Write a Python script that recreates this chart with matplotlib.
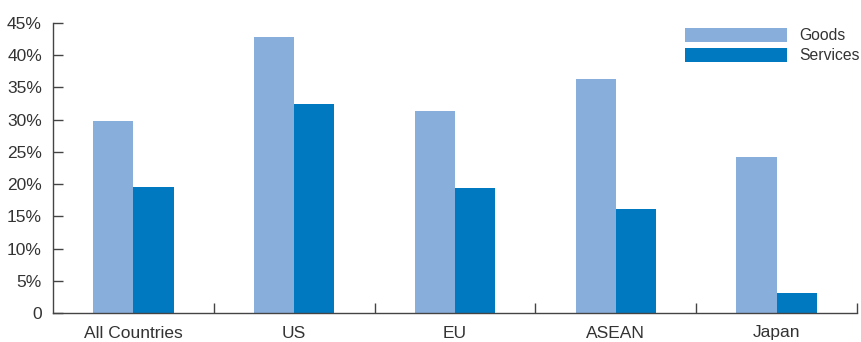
import matplotlib.pyplot as plt
import numpy as np

regions = ["All Countries", "US", "EU", "ASEAN", "Japan"]
goods = [29.8, 42.9, 31.4, 36.3, 24.2]
services = [19.6, 32.5, 19.4, 16.1, 3.1]
yticks = [0, 5, 10, 15, 20, 25, 30, 35, 40, 45]
ytick_labels = ["0"] + ["{}%".format(v) for v in yticks[1:]]

plt.rcParams["font.family"] = ["Liberation Sans", "DejaVu Sans"]

text_col = "#333333"
axis_col = "#444444"
fig = plt.figure(figsize=(8.62, 3.42), dpi=100)
ax = fig.add_axes([53 / 862, 1 - 313 / 342, 804 / 862, 290 / 342])

x = np.arange(len(regions))
w = 0.25
ax.bar(x - w / 2, goods, w, color="#88aedb", label="Goods")
ax.bar(x + w / 2, services, w, color="#0079c1", label="Services")

ax.set_xlim(-0.5, len(regions) - 0.5)
ax.set_ylim(0, 45)
ax.set_yticks(yticks)
ax.set_yticklabels(ytick_labels)
ax.set_xticks(x)
ax.set_xticklabels(regions)
ax.set_xticks(np.arange(len(regions)) + 0.5, minor=True)

for s in ["top", "right"]:
    ax.spines[s].set_visible(False)
for s in ["left", "bottom"]:
    ax.spines[s].set_color(axis_col)
    ax.spines[s].set_linewidth(1.0)

ax.tick_params(axis="y", direction="in", length=7, width=1, color=axis_col,
               labelsize=12.5, labelcolor=text_col, pad=8)
ax.tick_params(axis="x", which="major", length=0, labelsize=12.5,
               labelcolor=text_col, pad=9)
ax.tick_params(axis="x", which="minor", direction="in", length=7, width=1,
               color=axis_col)

# legend: long flat swatches, labels to the right
ax.legend(loc="upper right", bbox_to_anchor=(1.004, 0.983), frameon=False,
          fontsize=11.3, handlelength=6.5, handleheight=1.0, handletextpad=0.8,
          labelspacing=0.3, borderpad=0.0, borderaxespad=0.0,
          labelcolor=text_col)

plt.savefig("out.png", dpi=100)
